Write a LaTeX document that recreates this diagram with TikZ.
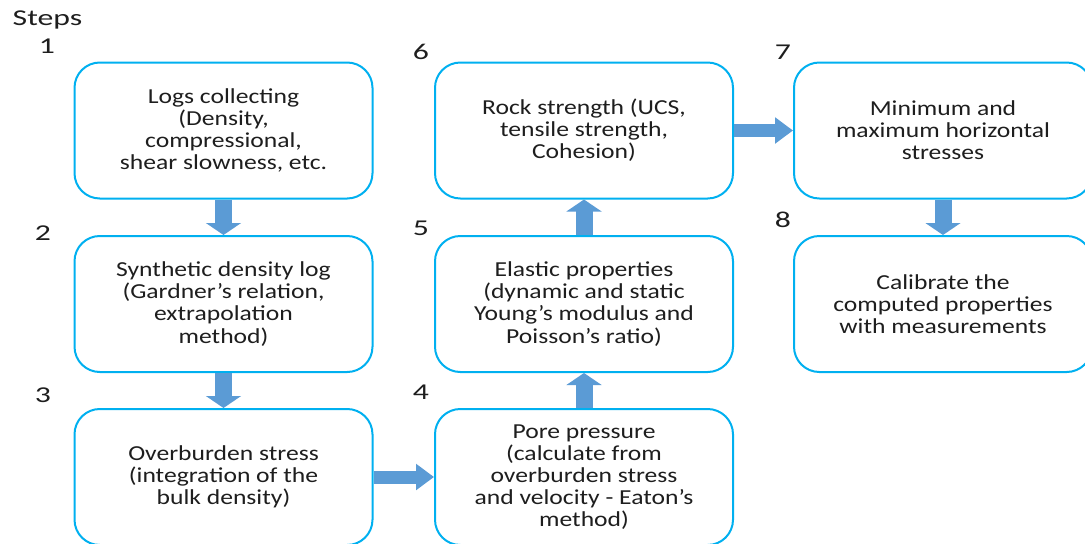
\documentclass[tikz,border=0pt]{standalone}
\usepackage{fontspec}
\setmainfont{Carlito}[FakeStretch=1.2]
\newfontfamily\stepfont{Carlito}[FakeStretch=1.4]
\usetikzlibrary{arrows.meta,positioning}
\definecolor{boxline}{RGB}{0,176,240}
\definecolor{arrowfill}{RGB}{91,155,213}
\definecolor{steptext}{RGB}{30,30,30}

\begin{document}
\begin{tikzpicture}[x=0.75pt, y=-0.75pt,
		stepnode/.style={draw=boxline, line width=1.5pt, rounded corners=19pt, fill=white,
			minimum width=223.5pt, minimum height=102pt, align=center,
			font=\fontsize{16}{16.6}\selectfont, text=steptext},
		vflow/.style={line width=12.75pt, arrowfill, -{Triangle[width=26pt, length=9pt]}},
		hflow/.style={line width=9.75pt, arrowfill, -{Triangle[width=19pt, length=13.5pt]}},
		stepnum/.style={font=\stepfont\fontsize{17}{18}\selectfont, text=steptext}]
		\useasboundingbox (0,0) rectangle (1085,543);
		\fill[white] (0,0) rectangle (1085,543);
		
		% Boxes
		\node[stepnode] (logs) at (223.5,130.5) {Logs collecting\\(Density,\\compressional,\\shear slowness, etc.};
		\node[stepnode] (synth) at (223.5,304) {Synthetic density log\\(Gardner’s relation,\\extrapolation\\method)};
		\node[stepnode] (overb) at (223.5,477) {Overburden stress\\(integration of the\\bulk density)};
		\node[stepnode] (pore) at (584,477) {Pore pressure\\(calculate from\\overburden stress\\and velocity - Eaton’s\\method)};
		\node[stepnode] (elastic) at (584,304) {Elastic properties\\(dynamic and static\\Young’s modulus and\\Poisson’s ratio)};
		\node[stepnode] (rock) at (584,130.5) {Rock strength (UCS,\\tensile strength,\\Cohesion)};
		\node[stepnode] (stress) at (943,130.5) {Minimum and\\maximum horizontal\\stresses};
		\node[stepnode] (calib) at (943,304) {Calibrate the\\computed properties\\with measurements};
		
		% Step numbers
		\node[stepnum, anchor=base west] (steps) at (8,25) {Steps};
		\foreach \n/\px/\py in {1/47/46, 2/43/233, 3/43/395, 4/421/392, 5/421/228, 6/421/52, 7/783/52, 8/783/220} {
			\node[stepnum] (num\n) at (\px,\py) {\n};
		}
		
		% Flow arrows
		\draw[vflow] (logs) -- (synth);
		\draw[vflow] (synth) -- (overb);
		\draw[hflow] (overb) -- (pore);
		\draw[vflow] (pore) -- (elastic);
		\draw[vflow] (elastic) -- (rock);
		\draw[hflow] (rock) -- (stress);
		\draw[vflow] (stress) -- (calib);
	\end{tikzpicture}
\end{document}
